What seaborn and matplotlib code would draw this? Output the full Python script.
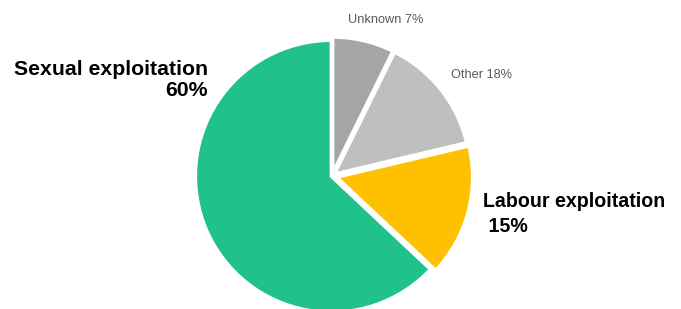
import matplotlib
matplotlib.use("Agg")
import matplotlib.pyplot as plt
import seaborn as sns

# Data (clockwise from 12 o'clock); wedge sizes as drawn, label texts as printed
categories = ["Unknown", "Other", "Labour exploitation", "Sexual exploitation"]
wedge_sizes = [7.3, 14.0, 15.7, 63.0]
label_texts = ["Unknown 7%", "Other 18%", "Labour exploitation\n 15%", "Sexual exploitation\n60%"]
colors = ["#A5A5A5", "#BFBFBF", "#FFC000", "#20C18A"]

sns.set_theme(style="white")
plt.rcParams["font.family"] = ["Liberation Sans", "DejaVu Sans"]

fig = plt.figure(figsize=(6.81, 3.09), dpi=100)
ax = fig.add_axes([0, 0, 1, 1])

ax.pie(wedge_sizes, colors=sns.color_palette(colors), startangle=90, counterclock=False,
       explode=[0.022, 0.022, 0.035, 0.005],
       wedgeprops=dict(edgecolor="white", linewidth=2.5))

ax.set_aspect("auto")
ax.set_xlim(-2.441, 2.566)
ax.set_ylim(-0.978, 1.294)
ax.axis("off")

W, H = 681.0, 309.0
fig.text(208 / W, 1 - 80 / H, label_texts[3], ha="right", va="center", multialignment="right",
         fontsize=15.3, fontweight="bold", color="black", linespacing=1.15)
fig.text(483 / W, 1 - 214 / H, label_texts[2], ha="left", va="center", multialignment="left",
         fontsize=14.1, fontweight="bold", color="black", linespacing=1.35)
fig.text(348 / W, 1 - 20 / H, label_texts[0], ha="left", va="center",
         fontsize=9.2, color="#595959")
fig.text(451 / W, 1 - 75 / H, label_texts[1], ha="left", va="center",
         fontsize=9.2, color="#595959")

fig.savefig("out.png", dpi=100)
